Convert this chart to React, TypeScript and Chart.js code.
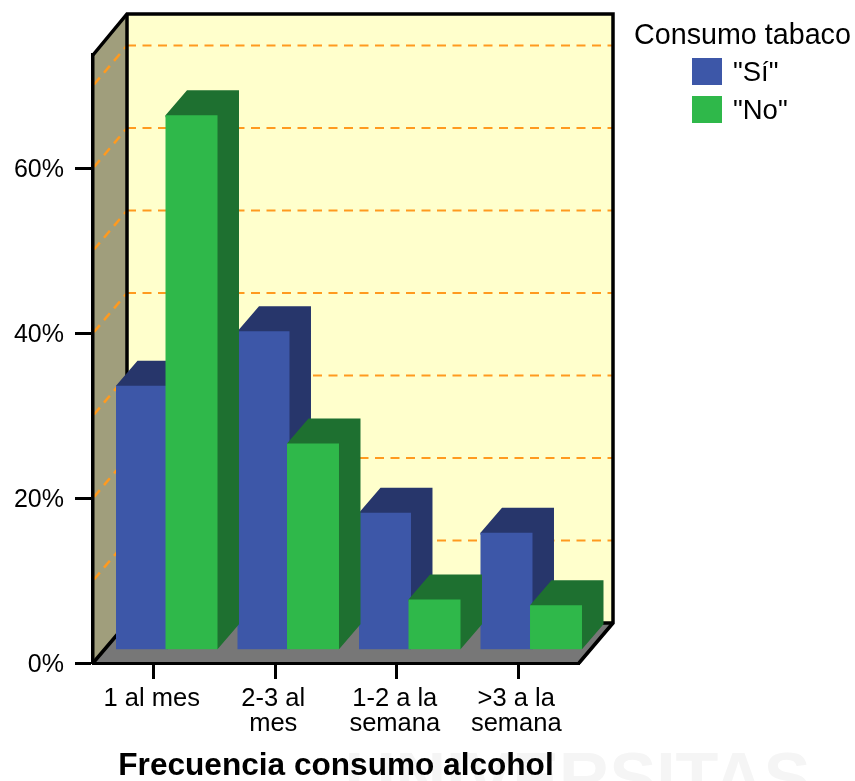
import React, { useEffect, useRef } from "react";
import { Chart, registerables } from "chart.js";

Chart.register(...registerables);

const categories = ["1 al mes", ["2-3 al", "mes"], ["1-2 a la", "semana"], [">3 a la", "semana"]];
const siValues = [33.6, 40.2, 18.2, 15.8];
const noValues = [66.4, 26.6, 7.7, 7.0];
const wallGridValues = [10, 20, 30, 40, 50, 60, 70];
const yTicks = [0, 20, 40, 60];
const legendTitle = "Consumo tabaco";
const xTitle = "Frecuencia consumo alcohol";
const seriesNames = ['"Sí"', '"No"'];
const BAR_FLOOR = 1.66;
const Y_MAX = 73.7;

const FONT = "'Liberation Sans', Arial, sans-serif";
const BLUE = "#3d57a8";
const BLUE_DARK = "#27366b";
const GREEN = "#2fb84a";
const GREEN_DARK = "#1e7030";
const WALL_DX = 34;
const WALL_DY = -40;
const BAR_DX = 21.5;
const BAR_DY = -25;
const BAR_SHIFT = 13;

function poly(ctx: CanvasRenderingContext2D, pts: number[][], fill: string) {
  ctx.beginPath();
  pts.forEach((p, i) => (i ? ctx.lineTo(p[0], p[1]) : ctx.moveTo(p[0], p[1])));
  ctx.closePath();
  ctx.fillStyle = fill;
  ctx.fill();
}

function line(ctx: CanvasRenderingContext2D, pts: number[][]) {
  ctx.beginPath();
  pts.forEach((p, i) => (i ? ctx.lineTo(p[0], p[1]) : ctx.moveTo(p[0], p[1])));
  ctx.stroke();
}

const box3d = {
  id: "box3d",
  beforeDraw(chart: any) {
    const { ctx, chartArea: a, scales } = chart;
    const L = a.left, R = a.right, T = a.top, B = a.bottom;
    const bx = WALL_DX, by = WALL_DY;
    ctx.save();
    ctx.fillStyle = "#ffffff";
    ctx.fillRect(0, 0, chart.width, chart.height);

    // faint scanned watermark behind the chart
    ctx.fillStyle = "#f5f5f5";
    ctx.font = `bold 70px ${FONT}`;
    ctx.textAlign = "left";
    ctx.textBaseline = "alphabetic";
    ctx.fillText("UNIVERSITAS", 345, 802);

    poly(ctx, [[L + bx, T - 41], [R + bx, T - 41], [R + bx, B + by], [L + bx, B + by]], "#ffffcc");
    poly(ctx, [[L, B], [L, T], [L + bx, T - 41], [L + bx, B + by]], "#a09e7c");
    poly(ctx, [[L, B], [R, B], [R + bx, B + by], [L + bx, B + by]], "#777777");

    ctx.strokeStyle = "#ff9a1f";
    ctx.setLineDash([9, 6.5]);
    wallGridValues.forEach((v) => {
      const y = scales.y.getPixelForValue(v);
      ctx.lineWidth = 2;
      line(ctx, [[L + bx, y + by], [R + bx, y + by]]);
      ctx.lineWidth = 2.5;
      line(ctx, [[L + 1, y - 1], [L + bx, y + by]]);
    });
    ctx.setLineDash([]);

    ctx.strokeStyle = "#000000";
    ctx.lineWidth = 3.5;
    ctx.lineJoin = "miter";
    line(ctx, [[L, T], [L + bx, T - 41], [R + bx, T - 41], [R + bx, B + by], [R, B]]);
    line(ctx, [[L + bx, T - 41], [L + bx, B + by]]);
    line(ctx, [[L, B], [L + bx, B + by], [R + bx, B + by]]);
    ctx.restore();
  },
  // Datasets are drawn here, in series order, so each green bar lies over its blue neighbour.
  beforeDatasetDraw() {
    return false;
  },
  afterDatasetsDraw(chart: any) {
    const ctx = chart.ctx;
    ctx.save();
    ctx.translate(BAR_SHIFT, 0);
    chart.data.datasets.forEach((_: any, index: number) => {
      const meta = chart.getDatasetMeta(index);
      const dark = index === 0 ? BLUE_DARK : GREEN_DARK;
      meta.data.forEach((el: any) => {
        const { x, y, base, width } = el.getProps(["x", "y", "base", "width"], true);
        const l = x - width / 2, r = x + width / 2;
        // top and side faces as one shape, extending under the front face, so no seam shows
        poly(
          ctx,
          [
            [l, y],
            [l + BAR_DX, y + BAR_DY],
            [r + BAR_DX, y + BAR_DY],
            [r + BAR_DX, base + BAR_DY],
            [r, base],
            [r - 2, base - 2],
            [r - 2, y + 2],
            [l, y + 2],
          ],
          dark
        );
      });
      meta.controller.draw();
    });
    ctx.restore();
  },
  afterDraw(chart: any) {
    const ctx = chart.ctx;
    ctx.save();
    ctx.fillStyle = "#000000";
    ctx.textBaseline = "middle";
    ctx.textAlign = "left";
    ctx.font = `28.7px ${FONT}`;
    ctx.fillText(legendTitle, 634, 36);
    ctx.font = `27.5px ${FONT}`;
    const colors = [BLUE, GREEN];
    const tops = [58, 96];
    seriesNames.forEach((name, i) => {
      ctx.fillStyle = colors[i];
      ctx.fillRect(692, tops[i], 30, 27);
      ctx.fillStyle = "#000000";
      ctx.fillText(name, 733, tops[i] + 15);
    });
    ctx.restore();
  },
};

export default function App() {
  const ref = useRef<HTMLCanvasElement>(null);
  useEffect(() => {
    const chart = new Chart(ref.current as HTMLCanvasElement, {
      type: "bar",
      data: {
        labels: categories as any,
        datasets: [
          { label: seriesNames[0], data: siValues, backgroundColor: BLUE, base: BAR_FLOOR } as any,
          { label: seriesNames[1], data: noValues, backgroundColor: GREEN, base: BAR_FLOOR } as any,
        ],
      },
      options: {
        responsive: false,
        animation: false,
        layout: { padding: { left: 0, top: 55, right: 276, bottom: 0 } },
        plugins: { legend: { display: false }, tooltip: { enabled: false }, title: { display: false } },
        datasets: { bar: { categoryPercentage: 0.815, barPercentage: 1.05 } },
        scales: {
          x: {
            type: "category",
            afterFit: (s: any) => {
              s.height = 118;
            },
            border: { display: true, color: "#000", width: 3 },
            grid: {
              offset: false,
              drawOnChartArea: false,
              drawTicks: true,
              tickLength: 16,
              tickWidth: 3,
              tickColor: "#000",
            },
            ticks: {
              color: "#000",
              autoSkip: false,
              maxRotation: 0,
              minRotation: 0,
              padding: 8,
              labelOffset: -2,
              font: { family: FONT, size: 25.5, lineHeight: 0.96 },
            },
            title: {
              display: true,
              text: xTitle,
              color: "#000",
              font: { family: FONT, size: 31.6, weight: "bold", lineHeight: 0.9 },
              padding: 0,
            },
          },
          y: {
            type: "linear",
            min: 0,
            max: Y_MAX,
            afterFit: (s: any) => {
              s.width = 93;
            },
            afterBuildTicks: (s: any) => {
              s.ticks = yTicks.map((value) => ({ value }));
            },
            border: { display: true, color: "#000", width: 3.5 },
            grid: {
              drawOnChartArea: false,
              drawTicks: true,
              tickLength: 18,
              tickWidth: 3,
              tickColor: "#000",
            },
            ticks: {
              color: "#000",
              padding: 11,
              labelOffset: 2,
              callback: (v: any) => `${v}%`,
              font: { family: FONT, size: 25 },
            },
          },
        },
      } as any,
      plugins: [box3d as any],
    });
    return () => chart.destroy();
  }, []);
  return (
    <canvas
      ref={ref}
      width={855}
      height={781}
      style={{ position: "absolute", left: 0, top: 0, width: 855, height: 781 }}
    />
  );
}
